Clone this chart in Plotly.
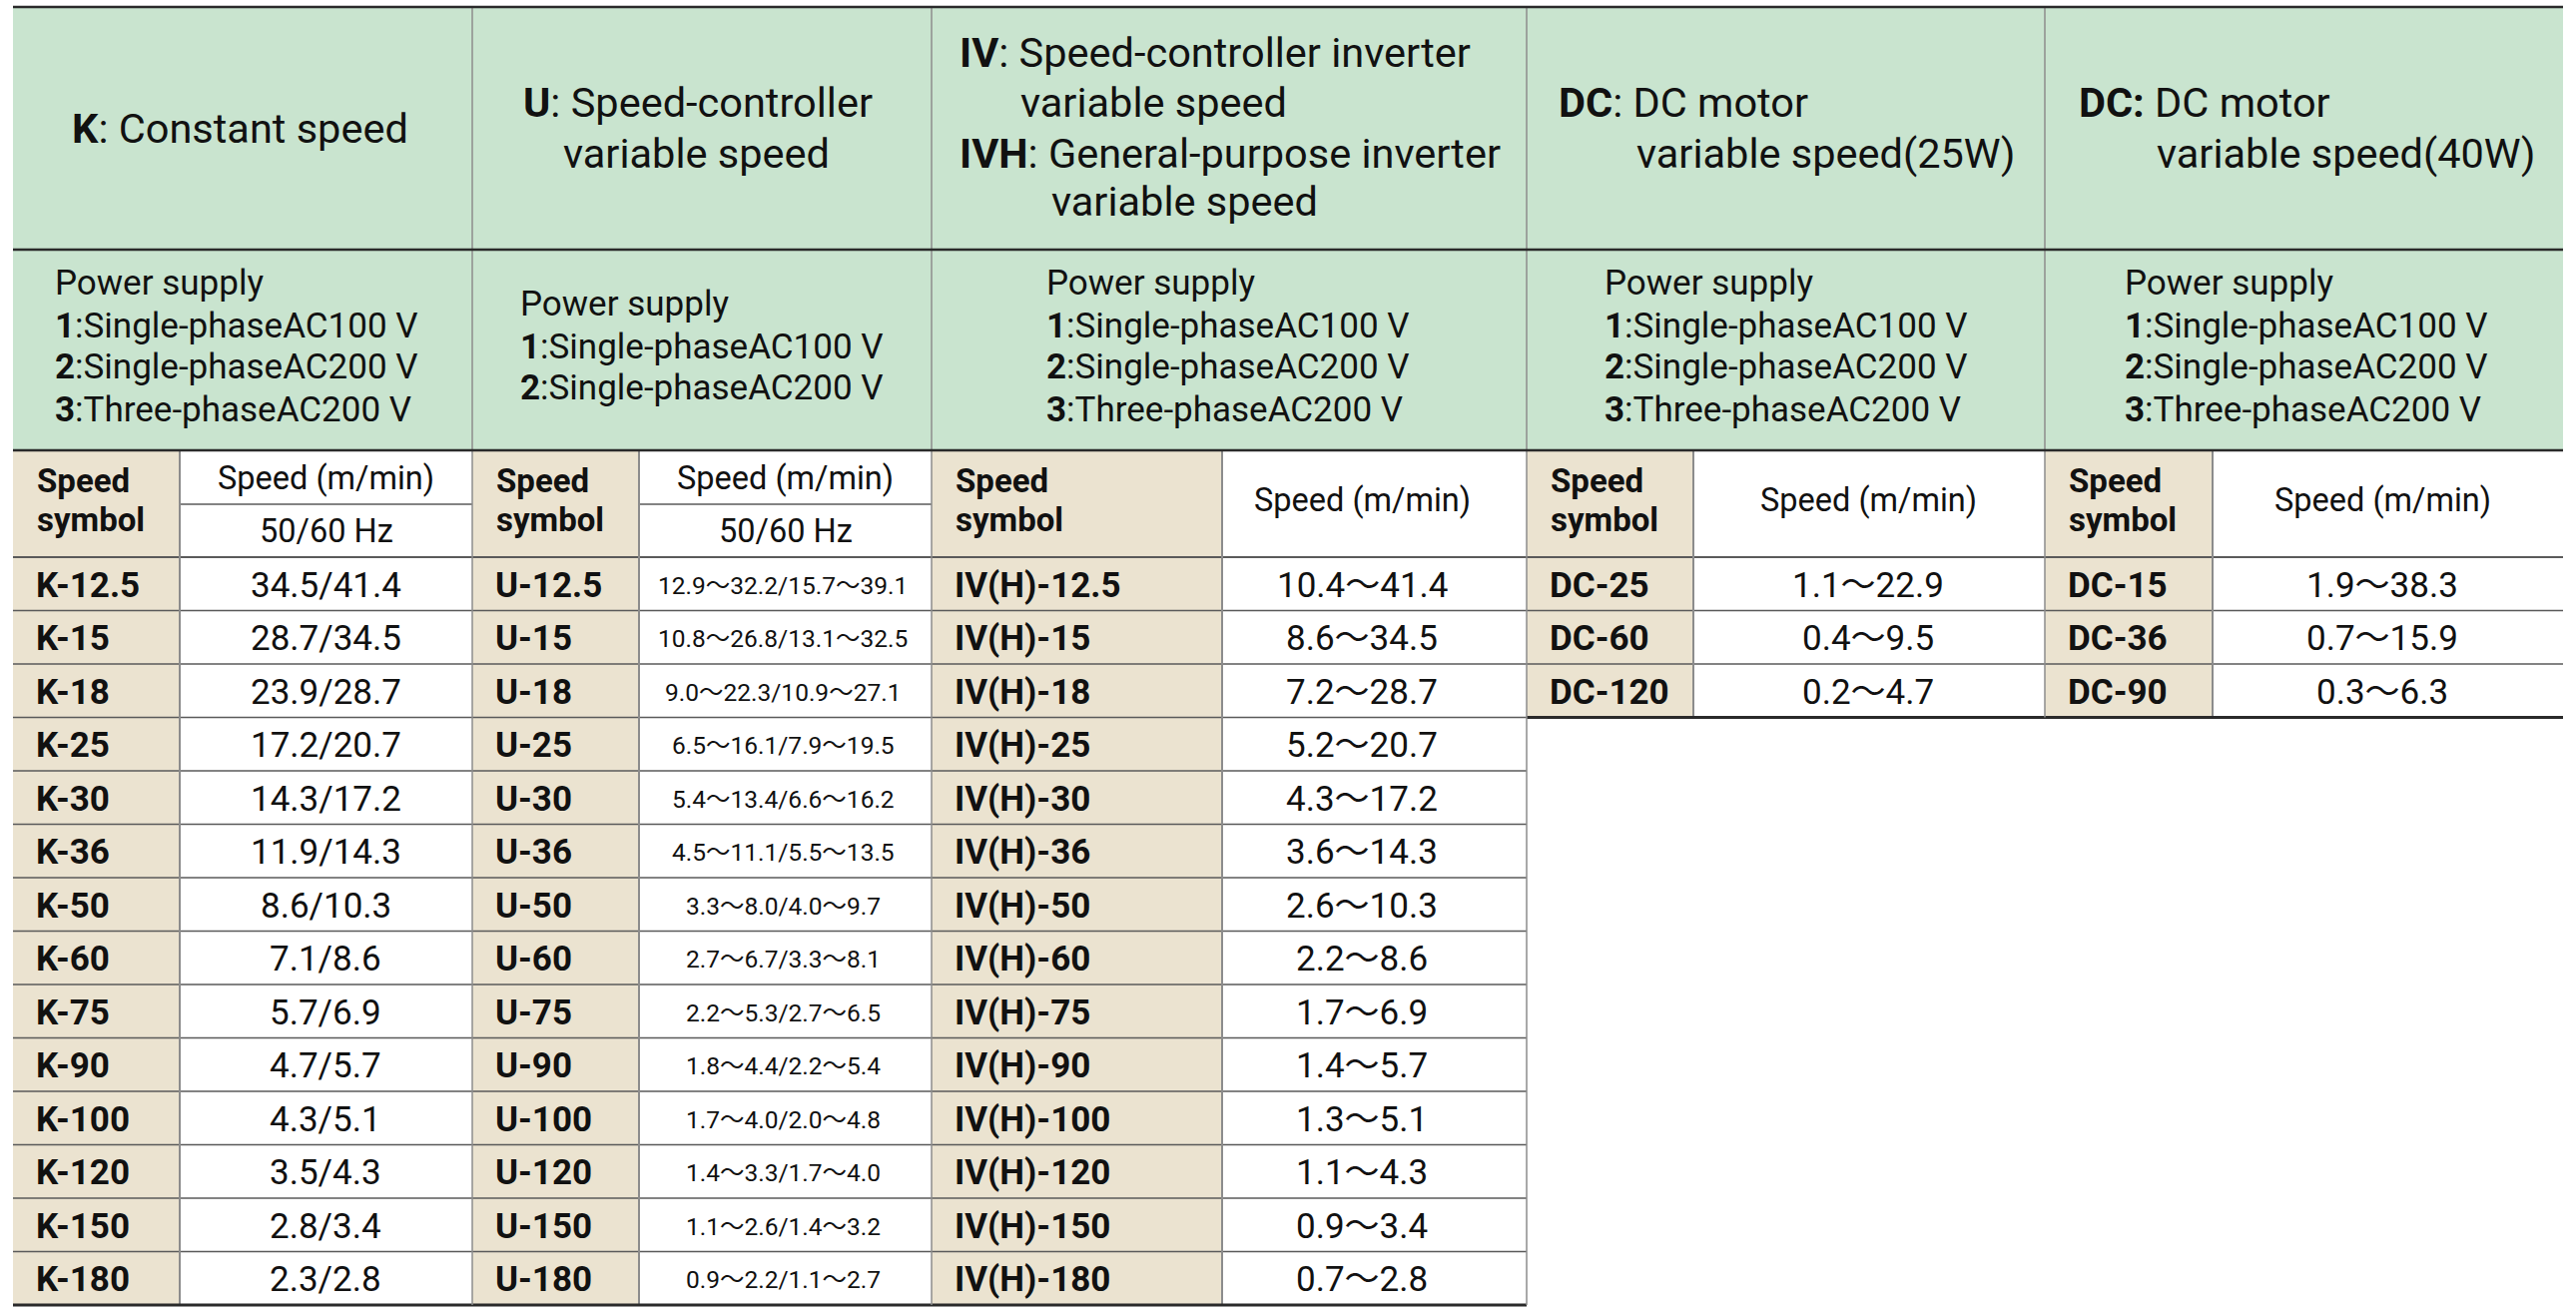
import plotly.graph_objects as go

# ---------------- data ----------------
k_symbols = ["K-12.5", "K-15", "K-18", "K-25", "K-30", "K-36", "K-50",
             "K-60", "K-75", "K-90", "K-100", "K-120", "K-150", "K-180"]
k_speeds = ["34.5/41.4", "28.7/34.5", "23.9/28.7", "17.2/20.7", "14.3/17.2",
            "11.9/14.3", "8.6/10.3", "7.1/8.6", "5.7/6.9", "4.7/5.7",
            "4.3/5.1", "3.5/4.3", "2.8/3.4", "2.3/2.8"]

u_symbols = ["U-12.5", "U-15", "U-18", "U-25", "U-30", "U-36", "U-50",
             "U-60", "U-75", "U-90", "U-100", "U-120", "U-150", "U-180"]
u_speeds = ["12.9～32.2/15.7～39.1", "10.8～26.8/13.1～32.5", "9.0～22.3/10.9～27.1",
            "6.5～16.1/7.9～19.5", "5.4～13.4/6.6～16.2", "4.5～11.1/5.5～13.5",
            "3.3～8.0/4.0～9.7", "2.7～6.7/3.3～8.1", "2.2～5.3/2.7～6.5",
            "1.8～4.4/2.2～5.4", "1.7～4.0/2.0～4.8", "1.4～3.3/1.7～4.0",
            "1.1～2.6/1.4～3.2", "0.9～2.2/1.1～2.7"]

iv_symbols = ["IV(H)-12.5", "IV(H)-15", "IV(H)-18", "IV(H)-25", "IV(H)-30",
              "IV(H)-36", "IV(H)-50", "IV(H)-60", "IV(H)-75", "IV(H)-90",
              "IV(H)-100", "IV(H)-120", "IV(H)-150", "IV(H)-180"]
iv_speeds = ["10.4～41.4", "8.6～34.5", "7.2～28.7", "5.2～20.7", "4.3～17.2",
             "3.6～14.3", "2.6～10.3", "2.2～8.6", "1.7～6.9", "1.4～5.7",
             "1.3～5.1", "1.1～4.3", "0.9～3.4", "0.7～2.8"]

dc25_symbols = ["DC-25", "DC-60", "DC-120"]
dc25_speeds = ["1.1～22.9", "0.4～9.5", "0.2～4.7"]

dc40_symbols = ["DC-15", "DC-36", "DC-90"]
dc40_speeds = ["1.9～38.3", "0.7～15.9", "0.3～6.3"]

k_title = ["<b>K</b>: Constant speed"]
u_title = ["<b>U</b>: Speed-controller", "variable speed"]
iv_title = ["<b>IV</b>: Speed-controller inverter", "variable speed",
            "<b>IVH</b>: General-purpose inverter", "variable speed"]
dc25_title = ["<b>DC</b>: DC motor", "variable speed(25W)"]
dc40_title = ["<b>DC:</b> DC motor", "variable speed(40W)"]

supply_3 = ["Power supply", "<b>1</b>:Single-phaseAC100 V",
            "<b>2</b>:Single-phaseAC200 V", "<b>3</b>:Three-phaseAC200 V"]
supply_2 = supply_3[:3]

symbol_head = ["<b>Speed</b>", "<b>symbol</b>"]
speed_head = "Speed (m/min)"
freq_head = "50/60 Hz"

# ---------------- look ----------------
W, H = 2580, 1314
GREEN = "#c9e4cf"
BEIGE = "#ebe3d0"
INK = "#111111"
DARK = "#2a2a2a"
ROWLINE = "#5a5a5a"
VLINE = "#8c8c8c"
FONT = "Roboto, Noto Sans CJK JP"

top, title_bot, supply_bot, head_bot = 7, 250, 451, 558
row_h = 53.5
TITLE_SIZE = 41.5
SUPPLY_SIZE = 35
CELL_SIZE = 35

groups = [
    dict(x0=13, xs=180, x1=473, sym=k_symbols, val=k_speeds, title=k_title,
         title_x=[240], title_y=[128], title_anchor="center",
         supply=supply_3, supply_x=53, supply_y=[283, 326, 367, 410],
         freq=True, val_x=326, val_size=CELL_SIZE),
    dict(x0=473, xs=640, x1=933, sym=u_symbols, val=u_speeds, title=u_title,
         title_x=[699, 697], title_y=[102, 153], title_anchor="center",
         supply=supply_2, supply_x=519, supply_y=[304, 347, 388],
         freq=True, val_x=784, val_size=24.5),
    dict(x0=933, xs=1224, x1=1529, sym=iv_symbols, val=iv_speeds, title=iv_title,
         title_x=[959, 1020, 959, 1051], title_y=[52, 102, 153, 201],
         title_anchor="left",
         supply=supply_3, supply_x=1046, supply_y=[283, 326, 367, 410],
         freq=False, val_x=1364, val_size=CELL_SIZE),
    dict(x0=1529, xs=1696, x1=2048, sym=dc25_symbols, val=dc25_speeds, title=dc25_title,
         title_x=[1559, 1637], title_y=[102, 153], title_anchor="left",
         supply=supply_3, supply_x=1605, supply_y=[283, 326, 367, 410],
         freq=False, val_x=1871, val_size=CELL_SIZE),
    dict(x0=2048, xs=2216, x1=2567, sym=dc40_symbols, val=dc40_speeds, title=dc40_title,
         title_x=[2080, 2158], title_y=[102, 153], title_anchor="left",
         supply=supply_3, supply_x=2126, supply_y=[283, 326, 367, 410],
         freq=False, val_x=2386, val_size=CELL_SIZE),
]

shapes = []
annotations = []


def rect(x0, y0, x1, y1, fill):
    shapes.append(dict(type="rect", xref="x", yref="y", x0=x0, y0=y0, x1=x1, y1=y1,
                       fillcolor=fill, line=dict(width=0), layer="below"))


def line(x0, y0, x1, y1, color, width):
    shapes.append(dict(type="line", xref="x", yref="y", x0=x0, y0=y0, x1=x1, y1=y1,
                       line=dict(color=color, width=width)))


def put(x, y, text, size, anchor="left"):
    annotations.append(dict(x=x, y=y, xref="x", yref="y", text=text, showarrow=False,
                            xanchor=anchor, yanchor="middle",
                            font=dict(family=FONT, size=size, color=INK)))


# header band
rect(13, top, 2567, supply_bot, GREEN)

for g in groups:
    n = len(g["sym"])
    bottom = head_bot + n * row_h
    rect(g["x0"], supply_bot, g["xs"], bottom, BEIGE)
    rect(g["xs"], supply_bot, g["x1"], bottom, "white")

    # titles
    for tx, ty, t in zip(g["title_x"], g["title_y"], g["title"]):
        put(tx, ty, t, TITLE_SIZE, g["title_anchor"])
    # power supply
    for sy, t in zip(g["supply_y"], g["supply"]):
        put(g["supply_x"], sy, t, SUPPLY_SIZE)

    # column header
    put(g["x0"] + 22, 481, symbol_head[0], 33)
    put(g["x0"] + 22, 520, symbol_head[1], 33)
    head_x = (g["xs"] + g["x1"]) / 2 if g["freq"] else g["val_x"]
    if g["freq"]:
        put(head_x, 479, speed_head, 32.5, "center")
        put(head_x, 532, freq_head, 32.5, "center")
        line(g["xs"], 505, g["x1"], 505, ROWLINE, 1.5)
    else:
        put(head_x, 501, speed_head, 32.5, "center")

    # rows
    for i, (s, v) in enumerate(zip(g["sym"], g["val"])):
        cy = head_bot + (i + 0.5) * row_h + 1.5
        put(g["x0"] + 21, cy, "<b>%s</b>" % s, CELL_SIZE)
        put(g["val_x"], cy, v, g["val_size"], "center")
        if i > 0:
            line(g["x0"], head_bot + i * row_h, g["x1"], head_bot + i * row_h, ROWLINE, 1.5)
    line(g["x0"], head_bot, g["x1"], head_bot, ROWLINE, 2)

    # vertical split between symbol and value
    line(g["xs"], supply_bot, g["xs"], bottom, VLINE, 2)
    # bottom rule
    line(g["x0"], bottom, g["x1"], bottom, DARK, 3)

# group separators
for gx, gb in [(473, 1307), (933, 1307), (1529, 1307), (2048, head_bot + 3 * row_h)]:
    line(gx, top, gx, gb, VLINE, 1.5)

# main horizontal rules
for yy in (top, title_bot, supply_bot):
    line(13, yy, 2567, yy, DARK, 2.5)

fig = go.Figure()
fig.update_layout(
    width=W, height=H,
    margin=dict(l=0, r=0, t=0, b=0),
    paper_bgcolor="white", plot_bgcolor="white",
    xaxis=dict(range=[0, W], visible=False, fixedrange=True),
    yaxis=dict(range=[H, 0], visible=False, fixedrange=True),
    shapes=shapes, annotations=annotations,
    showlegend=False,
)
# drop the default page margin so the figure sits at the window corner
fig.write_html("out.html", config={"displayModeBar": False},
               post_script="document.body.style.margin='0';")
